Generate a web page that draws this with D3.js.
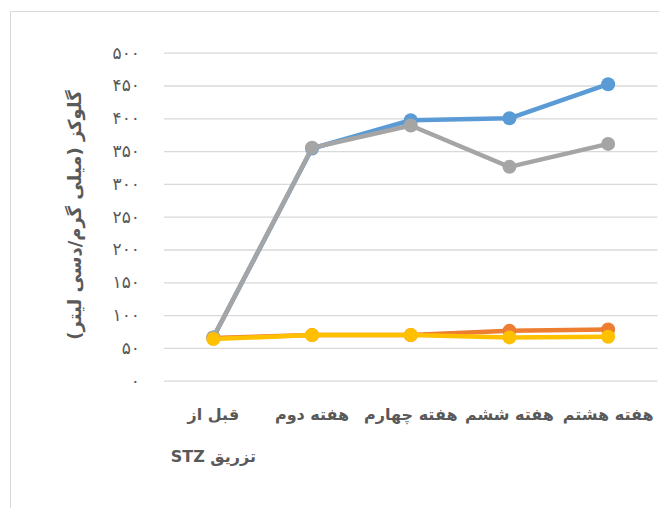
<!DOCTYPE html>
<html><head><meta charset="utf-8">
<script src="https://cdn.jsdelivr.net/npm/d3@7"></script>
<style>body{margin:0;background:#fff}svg{display:block}</style>
</head><body>
<script>
const categories = ["قبل از|تزریق STZ", "هفته دوم", "هفته چهارم", "هفته ششم", "هفته هشتم"];
const seriesBlue   = [66, 354, 397, 400, 452];
const seriesOrange = [65, 69.5, 69.5, 76, 78];
const seriesGray   = [66, 355, 389, 326, 361];
const seriesYellow = [63.5, 69.5, 69.5, 66, 67];
const yTicks = [0, 50, 100, 150, 200, 250, 300, 350, 400, 450, 500];
const yTitle = "گلوکز (میلی گرم/دسی لیتر)";

(function () {
const series = [
  {values: seriesBlue, color: "#5B9BD5"},
  {values: seriesOrange, color: "#ED7D31"},
  {values: seriesGray, color: "#A5A5A5"},
  {values: seriesYellow, color: "#FFC000"}
];

const W = 659, H = 508;
const svg = d3.select("body").append("svg").attr("width", W).attr("height", H);
svg.append("rect").attr("x", 10.5).attr("y", 11.5).attr("width", 700).attr("height", 600)
  .attr("fill", "#fff").attr("stroke", "#D9D9D9").attr("stroke-width", 1);

const pLeft = 164, pRight = 657.5, pTop = 52.7, pBottom = 380.7;
const x = d3.scaleBand().domain(d3.range(categories.length)).range([pLeft, pRight]);
const y = d3.scaleLinear().domain([0, 500]).range([pBottom, pTop]);

const toFa = n => String(n).replace(/\d/g, d => "۰۱۲۳۴۵۶۷۸۹"[d]);

const yAxis = d3.axisLeft(y).tickValues(yTicks).tickSize(-(pRight - pLeft)).tickPadding(24).tickFormat(toFa);
const gy = svg.append("g").attr("transform", `translate(${pLeft},0)`).call(yAxis);
gy.select(".domain").remove();
gy.selectAll(".tick line").attr("stroke", "#D9D9D9").attr("stroke-width", 1.3);
gy.selectAll(".tick text").attr("fill", "#595959").style("font-family", "DejaVu Sans")
  .style("font-size", "17px").style("letter-spacing", "2px").attr("direction", "ltr");

const xAxis = d3.axisBottom(x).tickSize(0).tickFormat(() => "");
const gx = svg.append("g").attr("transform", `translate(0,${pBottom})`).call(xAxis);
gx.select(".domain").remove();
gx.selectAll(".tick").each(function(d) {
  const lines = categories[d].split("|");
  const t = d3.select(this).select("text").text(null)
    .attr("y", 0).attr("dy", null)
    .attr("fill", "#595959").style("font-family", "DejaVu Sans").style("font-size", "16px")
    .style("font-weight", "bold").attr("direction", "rtl").attr("text-anchor", "middle");
  lines.forEach((ln, i) => {
    t.append("tspan").attr("x", 0).attr("y", 39 + i * 42).attr("text-anchor", "middle").text(ln);
  });
});

const cx = i => x(i) + x.bandwidth() / 2;
const line = d3.line().x((d, i) => cx(i)).y(d => y(d));
series.forEach(s => {
  const g = svg.append("g");
  g.append("path").datum(s.values).attr("d", line).attr("fill", "none")
    .attr("stroke", s.color).attr("stroke-width", 4.5).attr("stroke-linejoin", "round").attr("stroke-linecap", "round");
  g.selectAll("circle").data(s.values).join("circle")
    .attr("cx", (d, i) => cx(i)).attr("cy", d => y(d)).attr("r", 7).attr("fill", s.color);
});

svg.append("text").attr("transform", `translate(81,215) rotate(-90)`)
  .attr("text-anchor", "middle").attr("direction", "rtl").attr("fill", "#595959")
  .style("font-family", "DejaVu Sans").style("font-size", "18px").style("font-weight", "bold")
  .text(yTitle);
})();
</script>
</body></html>
